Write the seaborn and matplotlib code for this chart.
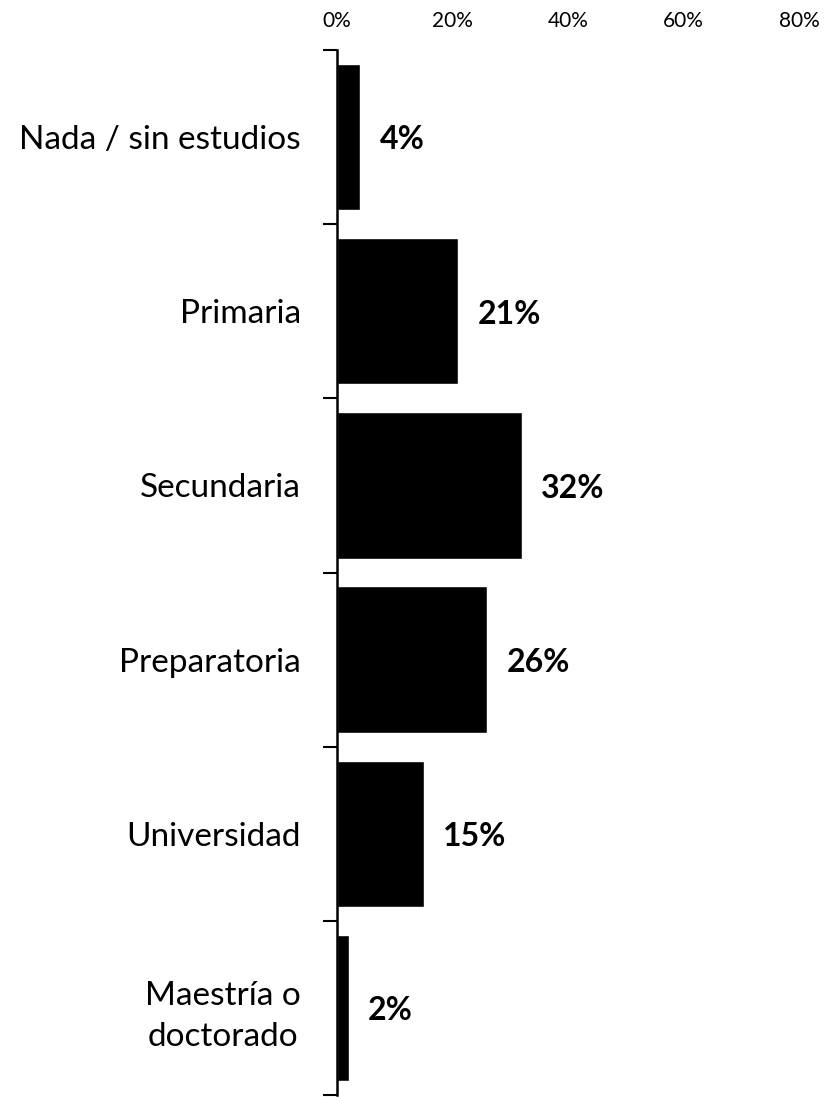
import numpy as np
import pandas as pd
import matplotlib
matplotlib.use('Agg')
import matplotlib.pyplot as plt
import seaborn as sns
from matplotlib.ticker import FixedLocator, PercentFormatter

categories = ['Nada / sin estudios', 'Primaria', 'Secundaria', 'Preparatoria',
              'Universidad', 'Maestría o\ndoctorado']
values = [4, 21, 32, 26, 15, 2]
xticks = [0, 20, 40, 60, 80]

df = pd.DataFrame({'Nivel': categories, 'Porcentaje': values})

sns.set_style('white')
plt.rcParams['font.family'] = ['Lato', 'DejaVu Sans']
plt.rcParams['text.color'] = 'black'
plt.rcParams['xtick.color'] = 'black'
plt.rcParams['ytick.color'] = 'black'

fig = plt.figure(figsize=(8.29, 10.97), dpi=100)
ax = fig.add_axes([337 / 829, 2 / 1097, (799 - 337) / 829, (1095 - 50) / 1097])

sns.barplot(data=df, x='Porcentaje', y='Nivel', color='black', orient='h',
            width=0.84, ax=ax, saturation=1)

ax.set_xlim(0, 80)
ax.set_ylim(5.5, -0.5)
ax.xaxis.tick_top()
ax.set_xticks(xticks)
ax.xaxis.set_major_formatter(PercentFormatter(decimals=0))
ax.tick_params(axis='x', length=0, labelsize=15, pad=14)
ax.set_xlabel('')
ax.set_ylabel('')

ax.tick_params(axis='y', which='major', length=0, labelsize=24, pad=26)
for lab in ax.get_yticklabels():
    lab.set_multialignment('center')
    lab.set_linespacing(1.45)
ax.yaxis.set_minor_locator(FixedLocator(np.arange(-0.5, 6, 1)))
ax.tick_params(axis='y', which='minor', length=10, width=1.5, color='black',
               direction='out', left=True)

for s in ['top', 'right', 'bottom']:
    ax.spines[s].set_visible(False)
ax.spines['left'].set_color('black')
ax.spines['left'].set_linewidth(1.8)

# etiquetas de valor
for i, v in enumerate(values):
    ax.annotate(f'{v}%', xy=(v, i), xytext=(14, -2), textcoords='offset points',
                va='center', ha='left', fontsize=23, fontweight='bold')

fig.savefig('out.png', dpi=100)
